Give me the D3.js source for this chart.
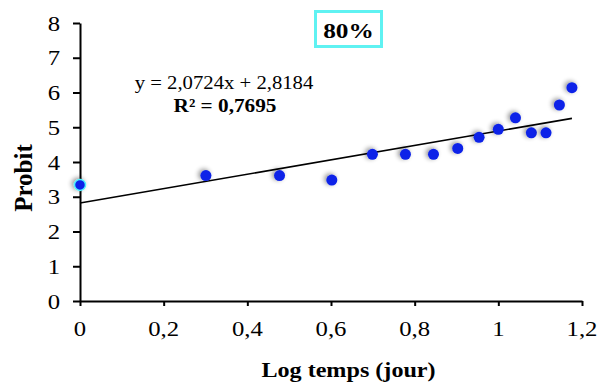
<!DOCTYPE html>
<html><head><meta charset="utf-8">
<script src="https://cdn.jsdelivr.net/npm/d3@7"></script>
<style>body{margin:0;background:#fff}text{font-family:"Liberation Serif","Times New Roman",serif;fill:#000}</style>
</head><body>
<svg id="c" width="601" height="383"></svg>
<script>
const logTemps = [0, 0.301, 0.477, 0.602, 0.699, 0.778, 0.845, 0.903, 0.954, 1.0, 1.041, 1.079, 1.114, 1.146, 1.176];
const probit   = [3.34, 3.61, 3.61, 3.48, 4.22, 4.22, 4.22, 4.39, 4.71, 4.94, 5.27, 4.84, 4.84, 5.64, 6.14];
const xTicks = [0, 0.2, 0.4, 0.6, 0.8, 1, 1.2];
const yTicks = [0, 1, 2, 3, 4, 5, 6, 7, 8];
const slope = 2.0724, intercept = 2.8184;
const title = "80%";
const eqText = "y = 2,0724x + 2,8184";
const r2Text = "R² = 0,7695";
const xTitle = "Log temps (jour)";
const yTitle = "Probit";

const SX = 1.15; // horizontal text stretch seen in the reference
const svg = d3.select("#c");
const x = d3.scaleLinear().domain([0, 1.2]).range([80, 582]);
const y = d3.scaleLinear().domain([0, 8]).range([301, 23]);
const fmt = d => String(d).replace(".", ",");

function txt(px, py, s, size, bold, anchor, sx) {
  return svg.append("text")
    .attr("transform", `translate(${px},${py}) scale(${sx || SX},1)`)
    .attr("text-anchor", anchor || "middle")
    .style("font-size", size + "px").style("font-weight", bold ? "bold" : "normal")
    .text(s);
}

const defs = svg.append("defs");
const f = defs.append("filter").attr("id","sh").attr("x","-100%").attr("y","-100%").attr("width","300%").attr("height","300%");
f.append("feGaussianBlur").attr("in","SourceAlpha").attr("stdDeviation",2.5).attr("result","b");
f.append("feOffset").attr("in","b").attr("dx",-2).attr("dy",-1).attr("result","o");
f.append("feComponentTransfer").attr("in","o").attr("result","o2").append("feFuncA").attr("type","linear").attr("slope",0.45);
const m = f.append("feMerge"); m.append("feMergeNode").attr("in","o2"); m.append("feMergeNode").attr("in","SourceGraphic");

// axes (lines and ticks via d3 axes)
const xAxis = svg.append("g").attr("transform","translate(0,301)")
  .call(d3.axisBottom(x).tickValues(xTicks).tickFormat("").tickSize(5).tickSizeOuter(0));
const yAxis = svg.append("g").attr("transform","translate(80,0)")
  .call(d3.axisLeft(y).tickValues(yTicks).tickFormat("").tickSize(7).tickSizeOuter(0));
[xAxis, yAxis].forEach(a => a.selectAll("path,line").attr("stroke","#000").attr("stroke-width",2));

// tick labels
xTicks.forEach(v => txt(x(v), 336, fmt(v), 21.5, false, "middle"));
yTicks.forEach(v => txt(60, y(v) + 7.5, String(v), 21.5, false, "end"));

// trend line
const x0 = d3.min(logTemps), x1 = d3.max(logTemps);
svg.append("line").attr("x1",x(x0)).attr("y1",y(intercept+slope*x0))
  .attr("x2",x(x1)).attr("y2",y(intercept+slope*x1)).attr("stroke","#000").attr("stroke-width",1.6);

// points
svg.append("g").selectAll("circle").data(logTemps.map((v,i)=>[v,probit[i]])).join("circle")
  .attr("cx",d=>x(d[0])).attr("cy",d=>y(d[1])).attr("r",5.5)
  .attr("fill","#0a22e8").attr("filter","url(#sh)")
  .attr("stroke",(d,i)=>i===0?"#4ff0ff":"none").attr("stroke-width",1.5);

// equation
txt(224, 89, eqText, 18.5, false, "middle", 1.12);
txt(225, 112, r2Text, 19, true, "middle", 1.12);

// title box
svg.append("rect").attr("x",315.5).attr("y",11.5).attr("width",66).attr("height",35).attr("fill","#fff").attr("stroke","#5ff2f2").attr("stroke-width",3);
txt(348.5, 38, title, 22, true, "middle");

// axis titles
txt(348.5, 377, xTitle, 21, true, "middle");
svg.append("text").attr("transform","translate(32,178) rotate(-90)").attr("text-anchor","middle")
  .style("font-size","25px").style("font-weight","bold").text(yTitle);
</script>
</body></html>
